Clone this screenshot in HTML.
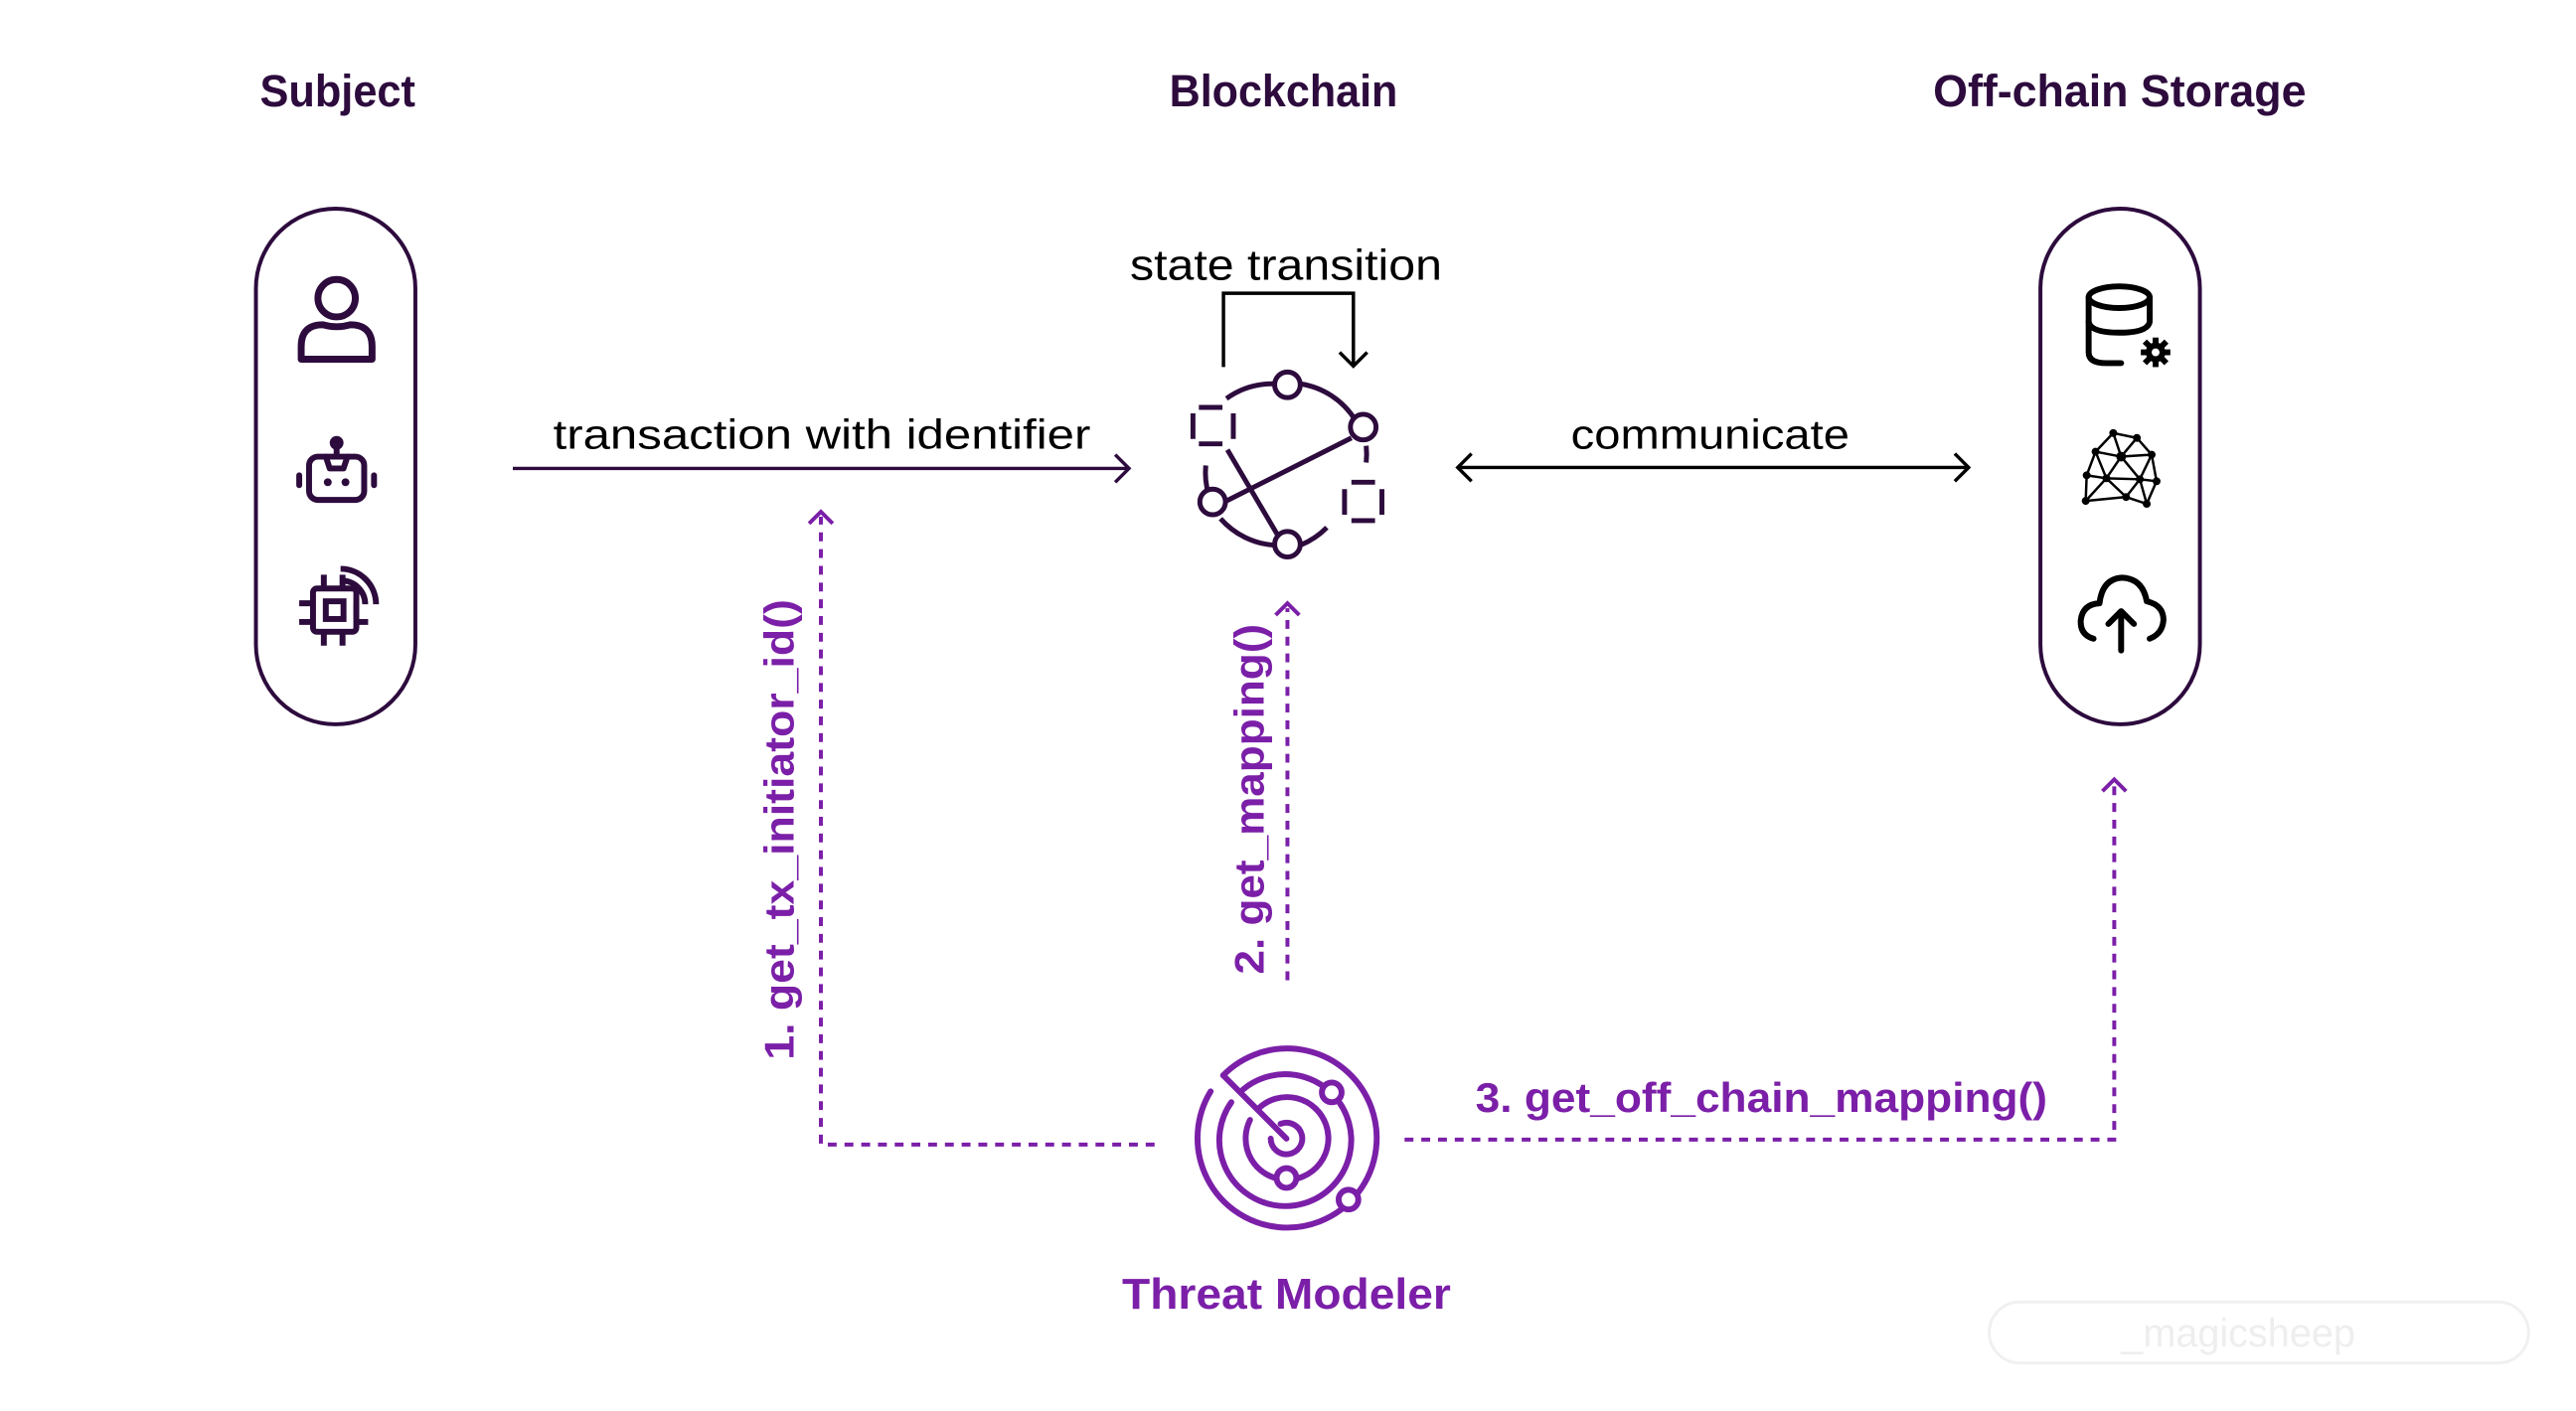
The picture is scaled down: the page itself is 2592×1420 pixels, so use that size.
<!DOCTYPE html>
<html><head><meta charset="utf-8"><style>
html,body{margin:0;padding:0;background:#fff;}
svg{display:block;}
text{font-family:"Liberation Sans",sans-serif;}
</style></head><body>
<svg width="2592" height="1420" viewBox="0 0 2592 1420" xmlns="http://www.w3.org/2000/svg">
<rect width="2592" height="1420" fill="#fff"/>
<g transform="scale(0.9904)">
<!-- Titles -->
<g fill="#2d0b3d" font-weight="bold" font-size="46">
<text x="264" y="108" textLength="158" lengthAdjust="spacingAndGlyphs">Subject</text>
<text x="1188" y="108" textLength="232" lengthAdjust="spacingAndGlyphs">Blockchain</text>
<text x="1964" y="108" textLength="379" lengthAdjust="spacingAndGlyphs">Off-chain Storage</text>
</g>
<!-- Pills -->
<rect x="260" y="212" width="162" height="524" rx="81" fill="none" stroke="#2d0b3d" stroke-width="4"/>
<rect x="2073" y="212" width="162" height="524" rx="81" fill="none" stroke="#2d0b3d" stroke-width="4"/>

<!-- Person -->
<g fill="none" stroke="#2d0b3d" stroke-width="7" stroke-linecap="round" stroke-linejoin="round">
<circle cx="342" cy="303" r="19"/>
<path d="M306 365 L306 352 Q306 330 328 330 Q342 334 356 330 Q378 330 378 352 L378 365 Z"/>
</g>
<!-- Robot -->
<g stroke="#2d0b3d" stroke-width="6" fill="none" stroke-linecap="round" stroke-linejoin="round">
<rect x="314" y="464" width="56" height="44" rx="9"/>
<path d="M331 464 L335 476 L349 476 L353 464"/>
<line x1="342" y1="456" x2="342" y2="464"/>
<line x1="304" y1="483" x2="304" y2="493"/>
<line x1="380" y1="483" x2="380" y2="493"/>
</g>
<g fill="#2d0b3d"><circle cx="342" cy="450" r="7"/><circle cx="333" cy="490" r="4"/><circle cx="351" cy="490" r="4"/></g>
<!-- Chip -->
<g stroke="#2d0b3d" stroke-width="6" fill="none">
<rect x="318" y="598" width="44" height="44" rx="4"/>
<rect x="331" y="611" width="18" height="18"/>
<path d="M329 584 V598 M348 584 V598 M329 642 V656 M348 642 V656 M304 613 H318 M304 632 H318 M362 632 H374 M362 615 V625"/>
<path d="M347 590 A24 24 0 0 1 371 614"/>
<path d="M346 578 A36 36 0 0 1 382 614"/>
</g>

<!-- DB icon -->
<g stroke="#000" stroke-width="6" fill="none" stroke-linecap="round">
<ellipse cx="2153" cy="302" rx="31" ry="11"/>
<path d="M2122 302 V358 Q2122 369 2140 369 L2155 369"/>
<path d="M2184 302 V325"/>
<path d="M2122 327 Q2124 338 2153 338 Q2182 338 2184 327"/>
</g>
<g fill="#000">
<circle cx="2190" cy="358" r="10"/>
<g stroke="#000" stroke-width="6"><line x1="2190" y1="343" x2="2190" y2="373"/><line x1="2175" y1="358" x2="2205" y2="358"/><line x1="2179" y1="347" x2="2201" y2="369"/><line x1="2201" y1="347" x2="2179" y2="369"/></g>
<circle cx="2190" cy="358" r="4" fill="#fff"/>
</g>
<!-- Network -->
<g stroke="#000" stroke-width="2.5" fill="none">
<path d="M2147 440 L2171 445 M2147 440 L2129 459 M2147 440 L2155 464 M2171 445 L2155 464 M2171 445 L2186 462 M2129 459 L2155 464 M2129 459 L2120 483 M2129 459 L2140 486 M2155 464 L2140 486 M2155 464 L2174 487 M2155 464 L2186 462 M2186 462 L2174 487 M2186 462 L2191 489 M2120 483 L2140 486 M2120 483 L2119 509 M2140 486 L2174 487 M2140 486 L2119 509 M2140 486 L2160 505 M2174 487 L2191 489 M2174 487 L2160 505 M2174 487 L2181 512 M2191 489 L2181 512 M2119 509 L2160 505 M2160 505 L2181 512"/>
</g>
<g fill="#000">
<circle cx="2147" cy="440" r="4"/><circle cx="2171" cy="445" r="4"/><circle cx="2129" cy="459" r="4"/><circle cx="2155" cy="464" r="5"/><circle cx="2186" cy="462" r="4"/><circle cx="2120" cy="483" r="4"/><circle cx="2140" cy="486" r="4"/><circle cx="2174" cy="487" r="4"/><circle cx="2191" cy="489" r="4"/><circle cx="2119" cy="509" r="4"/><circle cx="2160" cy="505" r="4"/><circle cx="2181" cy="512" r="4"/>
</g>
<!-- Cloud -->
<g stroke="#000" stroke-width="6" fill="none" stroke-linecap="round" stroke-linejoin="round">
<path d="M2127 649 Q2113 645 2114 630 Q2116 614 2133 613 Q2136 588 2156 587 Q2177 588 2181 611 Q2198 615 2198 630 Q2197 644 2184 649"/>
<path d="M2155 661 V622 M2142 634 L2155 621 L2168 634"/>
</g>

<!-- Blockchain icon -->
<g stroke="#2d0b3d" stroke-width="5" fill="none">
<path d="M1246 405 A80 80 0 0 1 1295 390"/>
<path d="M1321 390 A80 80 0 0 1 1377 427"/>
<path d="M1388 453 A80 80 0 0 1 1388 470"/>
<path d="M1348 536 A80 80 0 0 1 1321 554"/>
<path d="M1295 554 A80 80 0 0 1 1240 527"/>
<path d="M1228 503 A80 80 0 0 1 1225 473"/>
<line x1="1244" y1="510" x2="1373" y2="445"/>
<line x1="1247" y1="457" x2="1300" y2="547"/>
<path d="M1212 420 V446 M1253 420 V446 M1218 414 H1242 M1218 451 H1242" />
<path d="M1366 497 V523 M1404 497 V523 M1373 490 H1397 M1373 529 H1397"/>
</g>
<g stroke="#2d0b3d" stroke-width="5" fill="#fff">
<circle cx="1308" cy="391" r="13"/>
<circle cx="1385" cy="434" r="13"/>
<circle cx="1232" cy="510" r="13"/>
<circle cx="1308" cy="553" r="13"/>
</g>

<!-- state transition -->
<text x="1148" y="284" font-size="44" fill="#000" textLength="317" lengthAdjust="spacingAndGlyphs">state transition</text>
<g stroke="#000" stroke-width="3.5" fill="none">
<path d="M1243 373 V298 H1375 V372"/>
<path d="M1361 358 L1375 372 L1389 358"/>
</g>

<!-- transaction arrow -->
<text x="562" y="456" font-size="42" fill="#000" textLength="546" lengthAdjust="spacingAndGlyphs">transaction with identifier</text>
<g stroke="#2d0b3d" stroke-width="3.5" fill="none">
<line x1="521" y1="476" x2="1147" y2="476"/>
<path d="M1133 462 L1147 476 L1133 490"/>
</g>
<!-- communicate -->
<text x="1596" y="456" font-size="42" fill="#000" textLength="283" lengthAdjust="spacingAndGlyphs">communicate</text>
<g stroke="#000" stroke-width="3.5" fill="none">
<line x1="1481" y1="475" x2="2000" y2="475"/>
<path d="M1495 461 L1481 475 L1495 489"/>
<path d="M1986 461 L2000 475 L1986 489"/>
</g>

<!-- purple dotted -->
<g stroke="#7b1fa8" stroke-width="4" fill="none" stroke-dasharray="9 8">
<path d="M1173 1163 H834 V525"/>
<path d="M1308 996 V618"/>
<path d="M1427 1158 H2148 V797"/>
</g>
<g stroke="#7b1fa8" stroke-width="4" fill="none">
<path d="M822 532 L834 520 L846 532"/>
<path d="M1296 625 L1308 613 L1320 625"/>
<path d="M2136 804 L2148 792 L2160 804"/>
</g>
<g fill="#7b1fa8" font-weight="bold" font-size="42">
<text transform="translate(806,1077) rotate(-90)" textLength="468" lengthAdjust="spacingAndGlyphs">1. get_tx_initiator_id()</text>
<text transform="translate(1284,990) rotate(-90)" textLength="356" lengthAdjust="spacingAndGlyphs">2. get_mapping()</text>
<text x="1499" y="1130" textLength="581" lengthAdjust="spacingAndGlyphs">3. get_off_chain_mapping()</text>
<text x="1140" y="1330" font-size="44" textLength="334" lengthAdjust="spacingAndGlyphs">Threat Modeler</text>
</g>

<!-- Radar -->
<g transform="translate(1307,1157)" stroke="#7b1fa8" stroke-width="6" fill="none" stroke-linecap="round">
<path d="M-64.3 -64.3 A91 91 0 1 1 -77 -48"/>
<path d="M-44 -50 A67 67 0 1 1 -56 -37"/>
<path d="M-37 -19 A42 42 0 1 0 -28 -31"/>
<path d="M-16 0 A16 16 0 1 0 -6 -15"/>
<line x1="-64.3" y1="-64.3" x2="0" y2="0"/>
</g>
<g stroke="#7b1fa8" stroke-width="6" fill="#fff">
<circle cx="1353" cy="1110" r="10"/>
<circle cx="1307" cy="1197" r="10"/>
<circle cx="1370" cy="1219" r="10"/>
</g>

<!-- watermark -->
<rect x="2021" y="1323" width="548" height="62" rx="31" fill="none" stroke="#f0f0f0" stroke-width="3"/>
<text x="2155" y="1368" font-size="40" fill="#eeeeee">_magicsheep</text>
</g>
</svg>
</body></html>
